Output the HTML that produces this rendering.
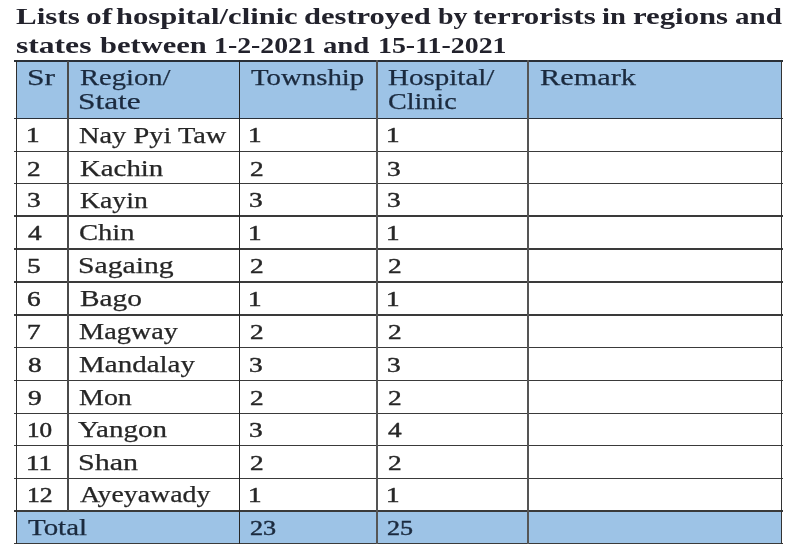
<!DOCTYPE html>
<html><head><meta charset="utf-8"><style>
html,body{margin:0;padding:0;}
body{width:800px;height:550px;position:relative;overflow:hidden;background:#fff;font-family:"Liberation Serif",serif;}
.t{position:absolute;will-change:transform;-webkit-text-stroke:0.25px currentColor;font-size:22.5px;line-height:0;white-space:nowrap;transform-origin:0 0;}
.b{color:#262626;}
.h{color:#1b2a3e;}
.d{font-size:20.5px;-webkit-text-stroke:0.45px currentColor;}
.ti{font-size:22.2px;font-weight:bold;-webkit-text-stroke:0;color:#22222c;}
.fill{position:absolute;background:#9dc3e6;}
.hl{position:absolute;height:1.5px;background:#252a30;}
.vl{position:absolute;width:1.5px;background:#252a30;}
</style></head><body>
<div class="fill" style="left:16.3px;top:61.2px;width:765.10px;height:57.10px"></div>
<div class="fill" style="left:16.3px;top:510.9px;width:765.10px;height:32.60px"></div>
<div class="hl" style="left:14.30px;top:60.45px;width:768.70px;background:#2a3038"></div>
<div class="hl" style="left:14.30px;top:117.55px;width:768.70px;background:#2a3038"></div>
<div class="hl" style="left:14.30px;top:150.70px;width:768.70px;background:#3a3a3a"></div>
<div class="hl" style="left:14.30px;top:182.55px;width:768.70px;background:#3a3a3a"></div>
<div class="hl" style="left:14.30px;top:215.35px;width:768.70px;background:#3a3a3a"></div>
<div class="hl" style="left:14.30px;top:248.05px;width:768.70px;background:#3a3a3a"></div>
<div class="hl" style="left:14.30px;top:281.15px;width:768.70px;background:#3a3a3a"></div>
<div class="hl" style="left:14.30px;top:314.10px;width:768.70px;background:#3a3a3a"></div>
<div class="hl" style="left:14.30px;top:346.85px;width:768.70px;background:#3a3a3a"></div>
<div class="hl" style="left:14.30px;top:379.75px;width:768.70px;background:#3a3a3a"></div>
<div class="hl" style="left:14.30px;top:412.50px;width:768.70px;background:#3a3a3a"></div>
<div class="hl" style="left:14.30px;top:444.75px;width:768.70px;background:#3a3a3a"></div>
<div class="hl" style="left:14.30px;top:477.50px;width:768.70px;background:#3a3a3a"></div>
<div class="hl" style="left:14.30px;top:510.15px;width:768.70px;background:#3a3a3a"></div>
<div class="hl" style="left:14.30px;top:542.75px;width:768.70px;background:#3a3a3a"></div>
<div class="vl" style="left:15.50px;top:60.45px;height:483.80px;width:1.6px;background:#2e2e2e"></div>
<div class="vl" style="left:67.10px;top:61.2px;height:449.70px;width:1.8px;background:#4a4a4a"></div>
<div class="vl" style="left:238.75px;top:60.45px;height:483.80px;width:1.5px;background:#262626"></div>
<div class="vl" style="left:376.05px;top:60.45px;height:483.80px;width:1.9px;background:#555"></div>
<div class="vl" style="left:527.05px;top:60.45px;height:483.80px;width:1.9px;background:#555"></div>
<div class="vl" style="left:780.60px;top:60.45px;height:483.80px;width:1.6px;background:#333"></div>
<span class="t ti" style="left:16.23px;top:16.91px;transform:scaleX(1.3966)">Lists</span>
<span class="t ti" style="left:85.76px;top:16.91px;transform:scaleX(1.4126)">of</span>
<span class="t ti" style="left:116.06px;top:16.91px;transform:scaleX(1.3773)">hospital/clinic</span>
<span class="t ti" style="left:303.80px;top:16.91px;transform:scaleX(1.3764)">destroyed</span>
<span class="t ti" style="left:437.68px;top:16.91px;transform:scaleX(1.2609)">by</span>
<span class="t ti" style="left:472.98px;top:16.91px;transform:scaleX(1.3906)">terrorists</span>
<span class="t ti" style="left:601.85px;top:16.91px;transform:scaleX(1.2908)">in</span>
<span class="t ti" style="left:632.63px;top:16.91px;transform:scaleX(1.3852)">regions</span>
<span class="t ti" style="left:735.02px;top:16.91px;transform:scaleX(1.3094)">and</span>
<span class="t ti" style="left:16.01px;top:46.01px;transform:scaleX(1.4236)">states</span>
<span class="t ti" style="left:99.66px;top:46.01px;transform:scaleX(1.3744)">between</span>
<span class="t ti" style="left:213.81px;top:46.01px;transform:scaleX(1.2516)">1-2-2021</span>
<span class="t ti" style="left:323.28px;top:46.01px;transform:scaleX(1.2950)">and</span>
<span class="t ti" style="left:377.80px;top:46.01px;transform:scaleX(1.2563)">15-11-2021</span>
<span class="t h" style="left:26.65px;top:78.21px;transform:scaleX(1.4000)">Sr</span>
<span class="t h" style="left:79.81px;top:78.21px;transform:scaleX(1.2687)">Region/</span>
<span class="t h" style="left:78.31px;top:102.21px;transform:scaleX(1.3942)">State</span>
<span class="t h" style="left:250.82px;top:78.21px;transform:scaleX(1.2798)">Township</span>
<span class="t h" style="left:387.99px;top:78.21px;transform:scaleX(1.2898)">Hospital/</span>
<span class="t h" style="left:387.71px;top:102.21px;transform:scaleX(1.2478)">Clinic</span>
<span class="t h" style="left:539.86px;top:78.21px;transform:scaleX(1.3480)">Remark</span>
<span class="t b d" style="left:26.17px;top:135.38px;transform:scaleX(1.3300)">1</span>
<span class="t b" style="left:79.31px;top:135.51px;transform:scaleX(1.2621)">Nay Pyi Taw</span>
<span class="t b d" style="left:248.47px;top:135.38px;transform:scaleX(1.3300)">1</span>
<span class="t b d" style="left:386.47px;top:135.38px;transform:scaleX(1.3300)">1</span>
<span class="t b d" style="left:27.34px;top:168.53px;transform:scaleX(1.3300)">2</span>
<span class="t b" style="left:79.60px;top:168.66px;transform:scaleX(1.2812)">Kachin</span>
<span class="t b d" style="left:249.64px;top:168.53px;transform:scaleX(1.3300)">2</span>
<span class="t b d" style="left:387.47px;top:168.53px;transform:scaleX(1.3300)">3</span>
<span class="t b d" style="left:27.17px;top:200.38px;transform:scaleX(1.3300)">3</span>
<span class="t b" style="left:79.63px;top:200.51px;transform:scaleX(1.2333)">Kayin</span>
<span class="t b d" style="left:249.47px;top:200.38px;transform:scaleX(1.3300)">3</span>
<span class="t b d" style="left:387.47px;top:200.38px;transform:scaleX(1.3300)">3</span>
<span class="t b d" style="left:28.00px;top:233.18px;transform:scaleX(1.3300)">4</span>
<span class="t b" style="left:79.29px;top:233.31px;transform:scaleX(1.2706)">Chin</span>
<span class="t b d" style="left:248.47px;top:233.18px;transform:scaleX(1.3300)">1</span>
<span class="t b d" style="left:386.47px;top:233.18px;transform:scaleX(1.3300)">1</span>
<span class="t b d" style="left:26.84px;top:265.88px;transform:scaleX(1.3300)">5</span>
<span class="t b" style="left:78.42px;top:266.01px;transform:scaleX(1.3196)">Sagaing</span>
<span class="t b d" style="left:249.64px;top:265.88px;transform:scaleX(1.3300)">2</span>
<span class="t b d" style="left:387.64px;top:265.88px;transform:scaleX(1.3300)">2</span>
<span class="t b d" style="left:27.34px;top:298.98px;transform:scaleX(1.3300)">6</span>
<span class="t b" style="left:79.58px;top:299.11px;transform:scaleX(1.3043)">Bago</span>
<span class="t b d" style="left:248.47px;top:298.98px;transform:scaleX(1.3300)">1</span>
<span class="t b d" style="left:386.47px;top:298.98px;transform:scaleX(1.3300)">1</span>
<span class="t b d" style="left:26.67px;top:331.93px;transform:scaleX(1.3300)">7</span>
<span class="t b" style="left:79.21px;top:332.06px;transform:scaleX(1.2564)">Magway</span>
<span class="t b d" style="left:249.64px;top:331.93px;transform:scaleX(1.3300)">2</span>
<span class="t b d" style="left:387.64px;top:331.93px;transform:scaleX(1.3300)">2</span>
<span class="t b d" style="left:27.50px;top:364.68px;transform:scaleX(1.3300)">8</span>
<span class="t b" style="left:79.19px;top:364.81px;transform:scaleX(1.2885)">Mandalay</span>
<span class="t b d" style="left:249.47px;top:364.68px;transform:scaleX(1.3300)">3</span>
<span class="t b d" style="left:387.47px;top:364.68px;transform:scaleX(1.3300)">3</span>
<span class="t b d" style="left:27.67px;top:397.58px;transform:scaleX(1.3300)">9</span>
<span class="t b" style="left:79.22px;top:397.71px;transform:scaleX(1.2434)">Mon</span>
<span class="t b d" style="left:249.64px;top:397.58px;transform:scaleX(1.3300)">2</span>
<span class="t b d" style="left:387.64px;top:397.58px;transform:scaleX(1.3300)">2</span>
<span class="t b d" style="left:26.55px;top:430.33px;transform:scaleX(1.2278)">10</span>
<span class="t b" style="left:77.98px;top:430.46px;transform:scaleX(1.2899)">Yangon</span>
<span class="t b d" style="left:249.47px;top:430.33px;transform:scaleX(1.3300)">3</span>
<span class="t b d" style="left:388.30px;top:430.33px;transform:scaleX(1.3300)">4</span>
<span class="t b d" style="left:26.39px;top:462.58px;transform:scaleX(1.3194)">11</span>
<span class="t b" style="left:78.40px;top:462.71px;transform:scaleX(1.3357)">Shan</span>
<span class="t b d" style="left:249.64px;top:462.58px;transform:scaleX(1.3300)">2</span>
<span class="t b d" style="left:387.64px;top:462.58px;transform:scaleX(1.3300)">2</span>
<span class="t b d" style="left:26.51px;top:495.33px;transform:scaleX(1.2539)">12</span>
<span class="t b" style="left:79.69px;top:495.46px;transform:scaleX(1.2366)">Ayeyawady</span>
<span class="t b d" style="left:248.47px;top:495.33px;transform:scaleX(1.3300)">1</span>
<span class="t b d" style="left:386.47px;top:495.33px;transform:scaleX(1.3300)">1</span>
<span class="t h" style="left:27.72px;top:527.91px;transform:scaleX(1.2853)">Total</span>
<span class="t h d" style="left:249.68px;top:528.08px;transform:scaleX(1.2768)">23</span>
<span class="t h d" style="left:386.89px;top:528.08px;transform:scaleX(1.2715)">25</span>
</body></html>
